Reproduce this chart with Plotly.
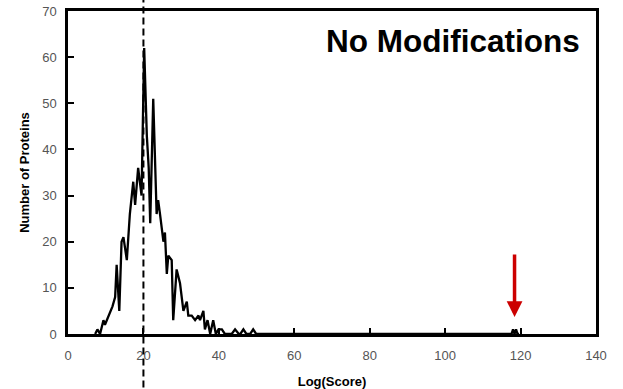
import plotly.graph_objects as go

# Histogram of Log(Score) values
log_score = [7.2, 7.8, 8.5, 9.4, 9.8, 10.3, 11.1, 11.8, 12.5, 12.9, 13.6, 14.2, 14.7,
             15.6, 16.4, 17.3, 17.8, 18.6, 19.5, 20.2, 20.9, 21.4, 21.8, 22.6, 23.5,
             23.9, 24.4, 25.3, 25.7, 26.2, 26.6, 27.5, 27.9, 28.8, 29.7, 30.2, 30.6,
             31.5, 31.9, 32.8, 33.7, 34.6, 35.0, 35.9, 36.3, 37.0, 37.7, 38.5, 39.2,
             39.9, 40.8, 41.6, 42.4, 43.4, 44.3, 45.3, 45.7, 46.5, 47.3, 48.3, 49.1,
             49.9, 117.6, 118.0, 118.4, 118.8, 119.2, 119.6]
num_proteins = [0, 1, 0, 3, 2, 3, 5, 6, 8, 15, 5, 20, 21,
                16, 26, 33, 28, 36, 30, 62, 43, 36, 24, 51, 26,
                29, 26, 20, 22, 13, 17, 16, 3, 14, 11, 7, 5,
                7, 4, 4, 3, 4, 3, 5, 1, 3, 0, 3, 0,
                1, 1, 0, 0, 0, 1, 0, 0, 1, 0, 0, 1,
                0, 0, 1, 0, 1, 0, 0]

threshold = 20          # dashed reference line
outlier_x = 118.4       # arrow target
outlier_y = 3.7

x_ticks = [0, 20, 40, 60, 80, 100, 120, 140]
y_ticks = [0, 10, 20, 30, 40, 50, 60, 70]

fig = go.Figure()
fig.add_trace(go.Scatter(x=log_score, y=num_proteins, mode="lines",
                         line=dict(color="black", width=2.3), showlegend=False))

axis_common = dict(showline=True, linecolor="black", linewidth=2.5, mirror=True,
                   ticks="inside", ticklen=6, tickwidth=2, tickcolor="black",
                   showgrid=False, zeroline=False, automargin=False,
                   tickfont=dict(family="Liberation Sans, Arial", size=13, color="#555555"))

fig.update_layout(
    width=623, height=389,
    margin=dict(l=68, r=27, t=11, b=55),
    plot_bgcolor="white", paper_bgcolor="white",
    xaxis=dict(range=[0, 140], tickvals=x_ticks, ticklabelstandoff=8,
               title=dict(text="<b>Log(Score)</b>", standoff=15,
                          font=dict(family="Liberation Sans, Arial", size=13, color="black")),
               **axis_common),
    yaxis=dict(range=[0, 70], tickvals=y_ticks, ticklabelstandoff=6,
               title=dict(text="<b>Number of Proteins</b>", standoff=10,
                          font=dict(family="Liberation Sans, Arial", size=13, color="black")),
               **axis_common),
)

fig.add_shape(type="line", xref="x", yref="paper", x0=threshold, x1=threshold,
              y0=-0.2, y1=1.1, line=dict(color="black", width=2, dash="7px,4px"))

fig.add_annotation(text="<b>No Modifications</b>", xref="paper", yref="paper",
                   x=0.973, y=0.907, xanchor="right", yanchor="middle", showarrow=False,
                   font=dict(family="Liberation Sans, Arial", size=31.5, color="black"))

fig.add_annotation(x=outlier_x, y=outlier_y, xref="x", yref="y", text="",
                   showarrow=True, arrowhead=2, arrowsize=0.9, arrowwidth=3.5,
                   arrowcolor="#cc0000", ax=0, ay=-64)

fig.write_html("out.html")
